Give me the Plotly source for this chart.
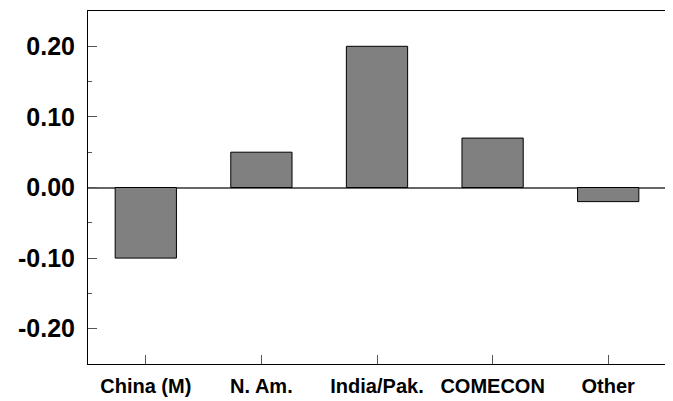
import plotly.graph_objects as go

categories = ["China (M)", "N. Am.", "India/Pak.", "COMECON", "Other"]
values = [-0.10, 0.05, 0.20, 0.07, -0.02]
y_tickvals = [0.20, 0.10, 0.00, -0.10, -0.20]
y_ticktext = ["0.20", "0.10", "0.00", "-0.10", "-0.20"]

fig = go.Figure()
fig.add_trace(go.Bar(
    x=categories, y=values, width=0.53,
    marker=dict(color="#808080", line=dict(color="black", width=1)),
    showlegend=False, hoverinfo="skip",
))

# page body has an 8px default margin, so the figure is sized to fit the window
fig.update_layout(
    width=665, height=393,
    margin=dict(l=80, r=7, t=3, b=37),
    plot_bgcolor="white", paper_bgcolor="white",
    font=dict(family="Liberation Sans, Arial, sans-serif", color="black"),
    xaxis=dict(
        type="category", range=[-0.5, 4.5],
        ticks="inside", ticklen=9, tickcolor="#555555", tickwidth=1,
        showline=True, linecolor="black", linewidth=1, mirror=True,
        showgrid=False, zeroline=False, automargin=False,
        tickfont=dict(size=20, family="Liberation Sans, Arial, sans-serif", weight="bold"),
        ticklabelstandoff=4,
    ),
    yaxis=dict(
        range=[-0.25, 0.25], tickmode="array", tickvals=y_tickvals, ticktext=y_ticktext,
        ticks="inside", ticklen=9, tickcolor="#555555", tickwidth=1,
        minor=dict(dtick=0.05, tick0=0.05, ticks="inside", ticklen=4, tickcolor="#555555", showgrid=False),
        showline=True, linecolor="black", linewidth=1, mirror=True,
        showgrid=False, zeroline=True, zerolinecolor="#666666", zerolinewidth=1.5,
        automargin=False,
        tickfont=dict(size=25, family="Liberation Sans, Arial, sans-serif", weight="bold"),
        ticklabelstandoff=7,
    ),
)

fig.write_html("out.html")
